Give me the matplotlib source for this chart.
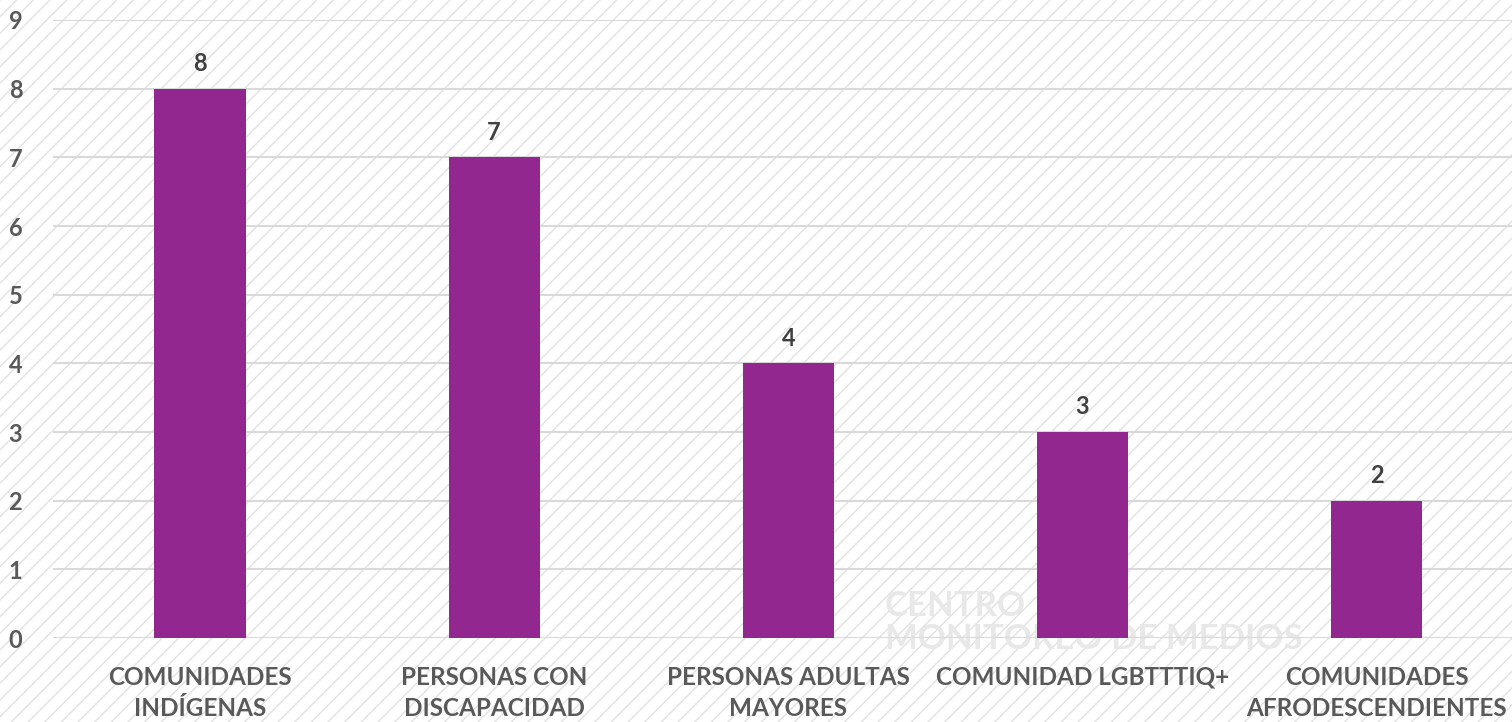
import matplotlib.pyplot as plt
from matplotlib.patches import Rectangle

categorias = ["COMUNIDADES\nINDÍGENAS", "PERSONAS CON\nDISCAPACIDAD", "PERSONAS ADULTAS\nMAYORES",
              "COMUNIDAD LGBTTTIQ+", "COMUNIDADES\nAFRODESCENDIENTES"]
valores = [8, 7, 4, 3, 2]

plt.rcParams['font.family'] = ['Lato', 'DejaVu Sans']
plt.rcParams['hatch.color'] = '#e2e2e2'
plt.rcParams['hatch.linewidth'] = 1.0

fig = plt.figure(figsize=(15.12, 7.22), dpi=100)
# fondo rayado
fig.patches.append(Rectangle((0, 0), 1, 1, transform=fig.transFigure, facecolor='white',
                             edgecolor='#e2e2e2', hatch='//', linewidth=0, zorder=-10))

ax = fig.add_axes([0.035, 0.1163, 0.965, 0.856])
ax.patch.set_alpha(0)

# marca de agua
fig.text(0.585, 0.138, "CENTRO\nMONITOREO DE MEDIOS", fontsize=25, fontweight='bold',
         color='#e8e8e8', ha='left', va='center', linespacing=1.05, zorder=-5)

x = range(len(categorias))
bars = ax.bar(x, valores, width=0.31, color='#92278F', zorder=3)
for b, v in zip(bars, valores):
    ax.text(b.get_x() + b.get_width() / 2, v + 0.2, str(v), ha='center', va='bottom',
            fontsize=17, fontweight='bold', color='#404040')

ax.set_ylim(0, 9)
ax.set_xlim(-0.5, 4.46)
ax.set_yticks(range(10))
ax.yaxis.grid(True, color='#d9d9d9', linewidth=1.5, zorder=0)
ax.set_axisbelow(True)
for s in ax.spines.values():
    s.set_visible(False)
ax.tick_params(length=0)
ax.set_xticks(list(x))
ax.set_xticklabels(categorias, fontsize=17.5, fontweight='bold', color='#595959', linespacing=1.45)
ax.tick_params(axis='x', pad=20)
ax.tick_params(axis='y', pad=22)
for t in ax.get_yticklabels():
    t.set_fontsize(17)
    t.set_fontweight('bold')
    t.set_color('#595959')

fig.savefig("out.png", dpi=100)
